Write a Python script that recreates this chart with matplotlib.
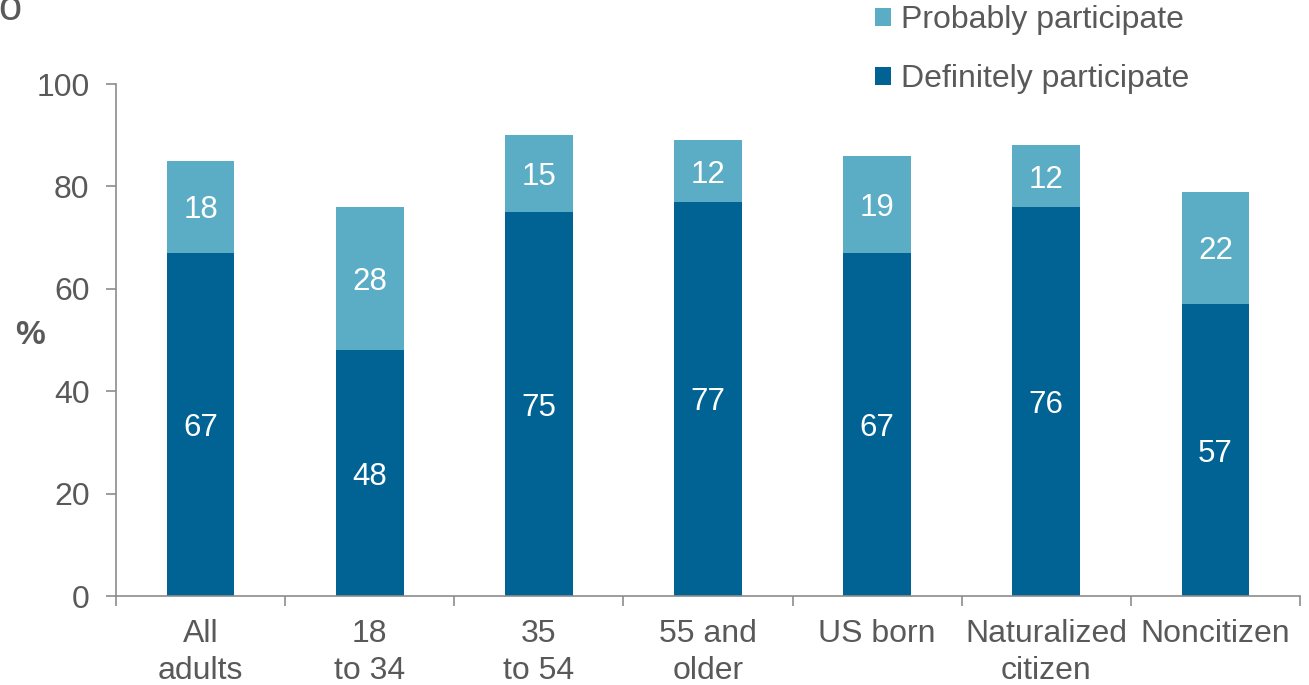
import matplotlib
matplotlib.use("Agg")
import matplotlib.pyplot as plt
import numpy as np
from matplotlib.patches import Patch

categories = ["All\nadults", "18\nto 34", "35\nto 54", "55 and\nolder", "US born", "Naturalized\ncitizen", "Noncitizen"]
definitely = [67, 48, 75, 77, 67, 76, 57]
probably = [18, 28, 15, 12, 19, 12, 22]
yticks = [0, 20, 40, 60, 80, 100]

dark = "#006394"
light = "#5BADC6"
gray = "#595959"
axgray = "#8C8C8C"

plt.rcParams['font.family'] = ['Liberation Sans', 'DejaVu Sans']

fig = plt.figure(figsize=(13.09, 6.85), dpi=100)
ax = fig.add_axes([116/1309, 1-596/685, (1300-116)/1309, (596-84)/685])

x = np.arange(len(categories))
w = 0.40
ax.bar(x, definitely, w, color=dark, label="Definitely participate", zorder=2)
ax.bar(x, probably, w, bottom=definitely, color=light, label="Probably participate", zorder=2)

for i in range(len(x)):
    ax.text(x[i], definitely[i]/2, str(definitely[i]), ha="center", va="center_baseline",
            color="white", fontsize=22.5)
    ax.text(x[i], definitely[i] + probably[i]/2, str(probably[i]), ha="center", va="center_baseline",
            color="white", fontsize=22.5)

ax.set_xlim(-0.5, len(x)-0.5)
ax.set_ylim(0, 100)
ax.set_yticks(yticks)
ax.set_yticklabels([str(v) for v in yticks])
ax.set_xticks(x)
ax.set_xticklabels(categories, linespacing=1.3)
ax.set_xticks(np.arange(-0.5, len(x), 1), minor=True)
ax.tick_params(axis="x", which="major", length=0, pad=16.5, labelsize=23, labelcolor=gray)
ax.tick_params(axis="x", which="minor", length=7, width=1.2, color=axgray, direction="out")
ax.tick_params(axis="y", length=7, width=1.2, color=axgray, pad=12, labelsize=23, labelcolor=gray)

for s in ["top", "right"]:
    ax.spines[s].set_visible(False)
for s in ["left", "bottom"]:
    ax.spines[s].set_color(axgray)
    ax.spines[s].set_linewidth(1.2)

fig.text(30/1309, 1-336/685, "%", fontsize=24, fontweight="bold", color=gray, ha="center", va="center")
fig.text(-2/1309, 1-20/685, "o", fontsize=30, color=gray, ha="left", va="baseline")

handles = [Patch(facecolor=light), Patch(facecolor=dark)]
labels = ["Probably participate", "Definitely participate"]
leg = fig.legend(handles, labels, loc="upper left", bbox_to_anchor=(869/1309, 1+1/685),
                 frameon=False, fontsize=23, handlelength=0.5, handleheight=0.5,
                 handletextpad=0.3, labelspacing=0.9, borderaxespad=0, borderpad=0.2)
for t in leg.get_texts():
    t.set_color(gray)

fig.savefig("out.png", dpi=100)
